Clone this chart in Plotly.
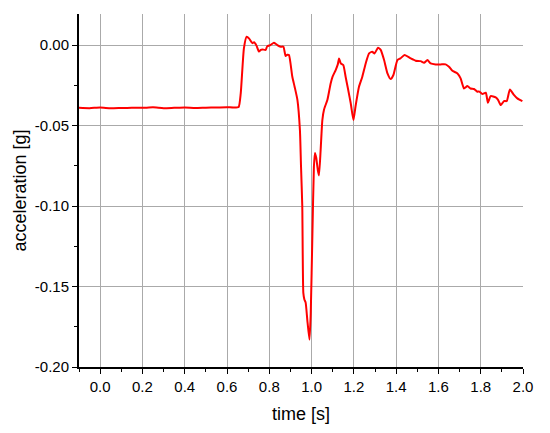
import plotly.graph_objects as go

# time [s] and acceleration [g]
time = [-0.10, -0.05, 0.00, 0.05, 0.10, 0.15, 0.20, 0.25, 0.30, 0.35, 0.40, 0.45,
        0.50, 0.55, 0.60, 0.63, 0.655, 0.665, 0.680, 0.693, 0.705, 0.720, 0.728,
        0.740, 0.751, 0.760, 0.767, 0.783, 0.790, 0.805, 0.822, 0.830, 0.838,
        0.854, 0.867, 0.877, 0.885, 0.893, 0.909, 0.920, 0.933, 0.945, 0.950,
        0.956, 0.961, 0.966, 0.972, 0.980, 0.990, 0.996, 1.004, 1.011, 1.016,
        1.022, 1.030, 1.035, 1.043, 1.051, 1.059, 1.075, 1.090, 1.099, 1.114,
        1.124, 1.130, 1.138, 1.150, 1.161, 1.172, 1.185, 1.198, 1.208, 1.224,
        1.240, 1.256, 1.272, 1.287, 1.298, 1.314, 1.327, 1.343, 1.359, 1.374,
        1.387, 1.406, 1.420, 1.440, 1.469, 1.492, 1.516, 1.532, 1.548, 1.563,
        1.587, 1.611, 1.634, 1.650, 1.666, 1.690, 1.705, 1.721, 1.737, 1.752,
        1.768, 1.784, 1.792, 1.808, 1.824, 1.834, 1.847, 1.871, 1.882, 1.895,
        1.910, 1.923, 1.938, 1.957, 1.973, 1.997]
accel = [-0.0390, -0.0392, -0.0388, -0.0393, -0.0391, -0.0389, -0.0390, -0.0387,
         -0.0392, -0.0390, -0.0388, -0.0391, -0.0389, -0.0388, -0.0386, -0.0388,
         -0.0385, -0.0300, -0.0020, 0.0052, 0.0040, 0.0012, 0.0017, -0.0005,
         -0.0040, -0.0030, -0.0027, -0.0030, -0.0008, 0.0000, 0.0014, 0.0008,
         0.0000, -0.0010, -0.0010, -0.0068, -0.0060, -0.0062, -0.0197, -0.0260,
         -0.0340, -0.0530, -0.0750, -0.1000, -0.1540, -0.1580, -0.1600, -0.1710,
         -0.1830, -0.1670, -0.1170, -0.0756, -0.0670, -0.0700, -0.0780, -0.0810,
         -0.0650, -0.0466, -0.0400, -0.0340, -0.0240, -0.0197, -0.0155, -0.0120,
         -0.0083, -0.0114, -0.0124, -0.0197, -0.0270, -0.0360, -0.0466, -0.0380,
         -0.0260, -0.0197, -0.0114, -0.0052, -0.0042, -0.0052, -0.0017, -0.0030,
         -0.0093, -0.0176, -0.0211, -0.0186, -0.0093, -0.0083, -0.0062, -0.0083,
         -0.0097, -0.0100, -0.0110, -0.0093, -0.0114, -0.0120, -0.0120, -0.0120,
         -0.0135, -0.0160, -0.0176, -0.0207, -0.0270, -0.0255, -0.0270, -0.0273,
         -0.0290, -0.0288, -0.0304, -0.0296, -0.0358, -0.0317, -0.0325, -0.0340,
         -0.0373, -0.0348, -0.0348, -0.0276, -0.0310, -0.0331, -0.0348]

x_ticks = [0.0, 0.2, 0.4, 0.6, 0.8, 1.0, 1.2, 1.4, 1.6, 1.8, 2.0]
x_labels = ["0.0", "0.2", "0.4", "0.6", "0.8", "1.0", "1.2", "1.4", "1.6", "1.8", "2.0"]
y_ticks = [0.0, -0.05, -0.10, -0.15, -0.20]
y_labels = ["0.00", "-0.05", "-0.10", "-0.15", "-0.20"]

fig = go.Figure()
fig.add_trace(go.Scatter(
    x=time, y=accel, mode="lines",
    line=dict(color="#ff0000", width=2, shape="spline", smoothing=0.5),
    showlegend=False,
))

axis_common = dict(
    showline=True, linecolor="black", linewidth=2,
    showgrid=True, gridcolor="#aaaaaa", gridwidth=1,
    ticks="outside", ticklen=5, tickwidth=1, tickcolor="black",
    zeroline=False, mirror=False,
    tickfont=dict(family="Liberation Sans, Arial", size=15, color="black"),
    title_font=dict(family="Liberation Sans, Arial", size=18, color="black"),
)

fig.update_xaxes(
    range=[-0.1, 2.0], tickmode="array", tickvals=x_ticks, ticktext=x_labels,
    title_text="time [s]", title_standoff=13,
    minor=dict(ticks="outside", ticklen=3, dtick=0.1, tick0=-0.1, tickcolor="black", showgrid=False),
    **axis_common,
)
fig.update_yaxes(
    range=[-0.20, 0.0193], tickmode="array", tickvals=y_ticks, ticktext=y_labels,
    title_text="acceleration [g]", title_standoff=3,
    minor=dict(ticks="outside", ticklen=3, dtick=0.025, tick0=0, tickcolor="black", showgrid=False),
    **axis_common,
)

fig.update_layout(
    width=550, height=433,
    margin=dict(l=79, r=27, t=14, b=66, autoexpand=False),
    plot_bgcolor="white", paper_bgcolor="white",
)

fig.write_html("out.html", config={"displayModeBar": False},
               post_script="document.body.style.margin='0';")
